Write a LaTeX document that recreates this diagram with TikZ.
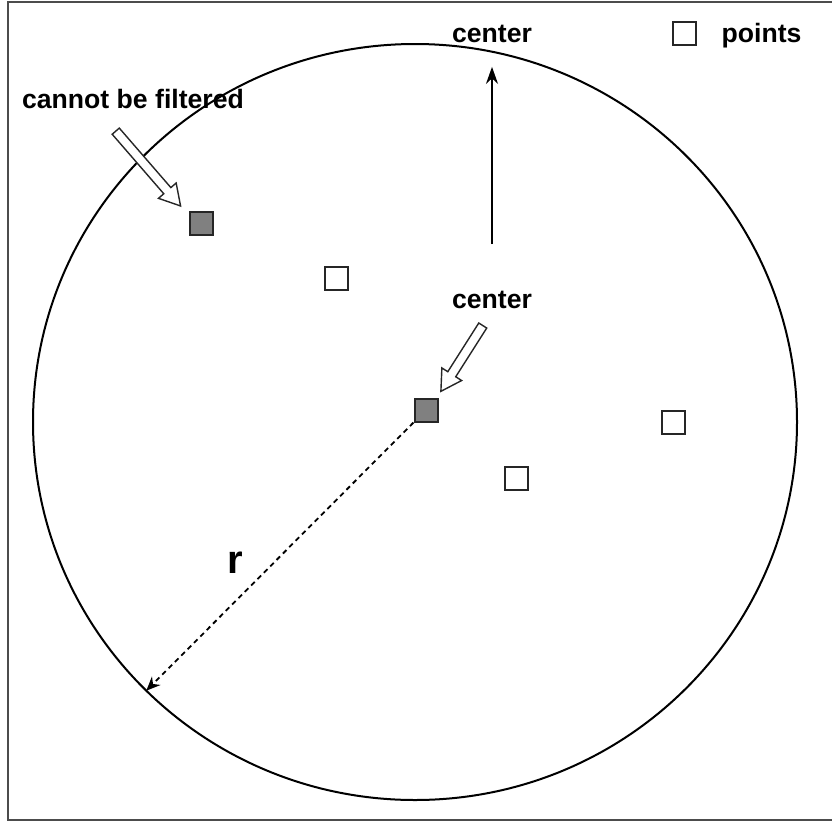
\documentclass[tikz,border=0pt]{standalone}
\usepackage{fontspec}
\setmainfont{Liberation Sans}
\usetikzlibrary{calc, shapes.geometric, shapes.arrows, arrows.meta, positioning}

\begin{document}
\begin{tikzpicture}[x=1pt, y=-1pt,
    pt/.style={draw=black!85, line width=2pt, minimum size=23pt, inner sep=0pt},
    ptgray/.style={pt, fill=black!50},
    lbl/.style={font=\bfseries\fontsize{26.6}{30}\selectfont, inner sep=0pt, text depth=0pt},
    hollow/.style={single arrow, draw=black!85, fill=white, line width=1.4pt,
        inner xsep=0pt, inner ysep=4pt, single arrow head extend=7pt,
        single arrow tip angle=60, single arrow head indent=0pt,
        sloped, allow upside down}]
    \useasboundingbox (0,0) rectangle (832,825);
    % Khung
    \draw[black!70, line width=2.5pt] (8,2) rectangle (850,820);
    % Vong tron
    \node[draw, ellipse, line width=2pt, outer sep=0pt, inner sep=0pt,
          minimum width=764pt, minimum height=756pt] (ring) at (415,422) {};

    % Cac diem
    \node[ptgray] (far) at (201,223) {};
    \node[pt] (p1) at (336,278) {};
    \node[ptgray] (cpt) at (426,410) {};
    \node[pt] (p2) at (673,422) {};
    \node[pt] (p3) at (516,478) {};

    % Chu thich
    \node[pt] (lgd) at (684,33) {};
    \node[lbl, right=25pt of lgd] {points};
    \node[lbl] (ctop) at (492,34) {center};
    \node[lbl] (cmid) at (492,300) {center};
    \node[lbl] (cbf) at (133,99) {cannot be filtered};

    % Mui ten rong
    \coordinate (t1) at (113,128);
    \coordinate (h1) at (178,203);
    \path (t1) -- (h1) node[midway, hollow, minimum height=99pt] {};
    \coordinate (t2) at (485,322);
    \coordinate (h2) at (443,388);
    \path (t2) -- (h2) node[midway, hollow, minimum height=78pt] {};

    % Mui ten huong len
    \coordinate (base) at (492,244);
    \draw[line width=2pt, -{Stealth[length=17pt, width=12pt]}] (base) -- ([yshift=-24pt]ctop.south);

    % Ban kinh r
    \draw[line width=1.8pt, dash pattern=on 5pt off 4pt, -{Stealth[length=14pt, width=12pt]}]
        (cpt.south west) -- (ring.225);
    \node[lbl, font=\bfseries\fontsize{40}{44}\selectfont] (rlbl) at (235,563) {r};
\end{tikzpicture}
\end{document}
